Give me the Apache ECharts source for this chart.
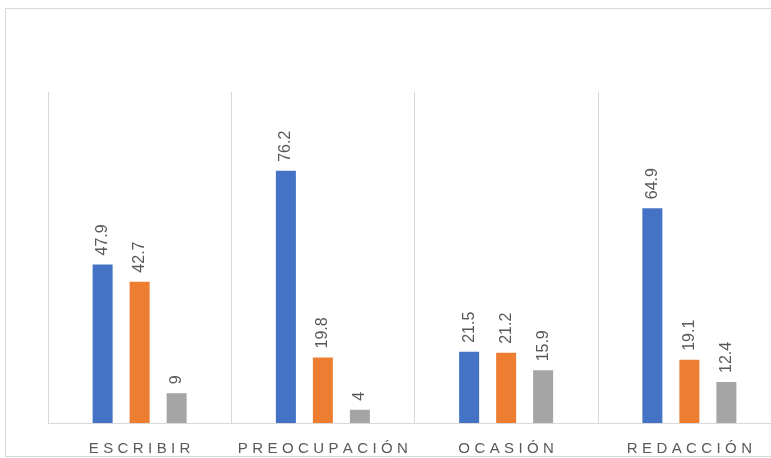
<!DOCTYPE html>
<html><head><meta charset="utf-8">
<script src="https://cdn.jsdelivr.net/npm/echarts@6/dist/echarts.min.js"></script>
<style>html,body{margin:0;padding:0;background:#fff;overflow:hidden}#c{width:781px;height:458px}</style>
</head><body><div id="c"></div>
<script>
const categories = ['ESCRIBIR', 'PREOCUPACIÓN', 'OCASIÓN', 'REDACCIÓN'];
const serie1 = [47.9, 76.2, 21.5, 64.9];
const serie2 = [42.7, 19.8, 21.2, 19.1];
const serie3 = [9, 4, 15.9, 12.4];

// letter spacing for the category labels (drawn char by char)
const SPACING = 4.4;
const origFill = CanvasRenderingContext2D.prototype.fillText;
CanvasRenderingContext2D.prototype.fillText = function (t, x, y, w) {
  if (categories.indexOf(t) >= 0) {
    const chars = Array.from(t);
    const ws = chars.map(c => this.measureText(c).width);
    const total = ws.reduce((a, b) => a + b, 0) + SPACING * (chars.length - 1);
    const align = this.textAlign;
    let sx = x;
    if (align === 'center') sx = x - total / 2;
    else if (align === 'right' || align === 'end') sx = x - total;
    this.textAlign = 'left';
    for (let i = 0; i < chars.length; i++) {
      origFill.call(this, chars[i], sx, y);
      sx += ws[i] + SPACING;
    }
    this.textAlign = align;
    return;
  }
  return origFill.call(this, t, x, y, w);
};

const chart = echarts.init(document.getElementById('c'), null, {renderer: 'canvas'});
const lbl = {show: true, position: 'top', rotate: 90, distance: 9, align: 'left', verticalAlign: 'middle',
  color: '#595959', fontSize: 16, fontFamily: 'Liberation Sans, Arial, sans-serif'};
function mk(name, data, color) {
  return {name, type: 'bar', data, barWidth: 20, barGap: '85%', itemStyle: {color}, label: lbl, silent: true};
}
chart.setOption({
  animation: false,
  graphic: [{type: 'rect', shape: {x: 5.5, y: 8.5, width: 800, height: 448}, style: {fill: 'none', stroke: '#d9d9d9', lineWidth: 1}, z: -1}],
  grid: {left: 48, right: 0, top: 92, bottom: 35},
  xAxis: {type: 'category', data: categories,
    axisLine: {show: true, lineStyle: {color: '#d9d9d9', width: 1}},
    axisTick: {show: false},
    splitLine: {show: true, lineStyle: {color: '#d9d9d9', width: 1}},
    axisLabel: {color: '#595959', fontSize: 15, margin: 18, fontFamily: 'Liberation Sans, Arial, sans-serif', interval: 0}
  },
  yAxis: {type: 'value', min: 0, max: 100, show: false, splitLine: {show: false}},
  series: [mk('Serie 1', serie1, '#4472C4'), mk('Serie 2', serie2, '#ED7D31'), mk('Serie 3', serie3, '#A5A5A5')]
});
</script></body></html>
